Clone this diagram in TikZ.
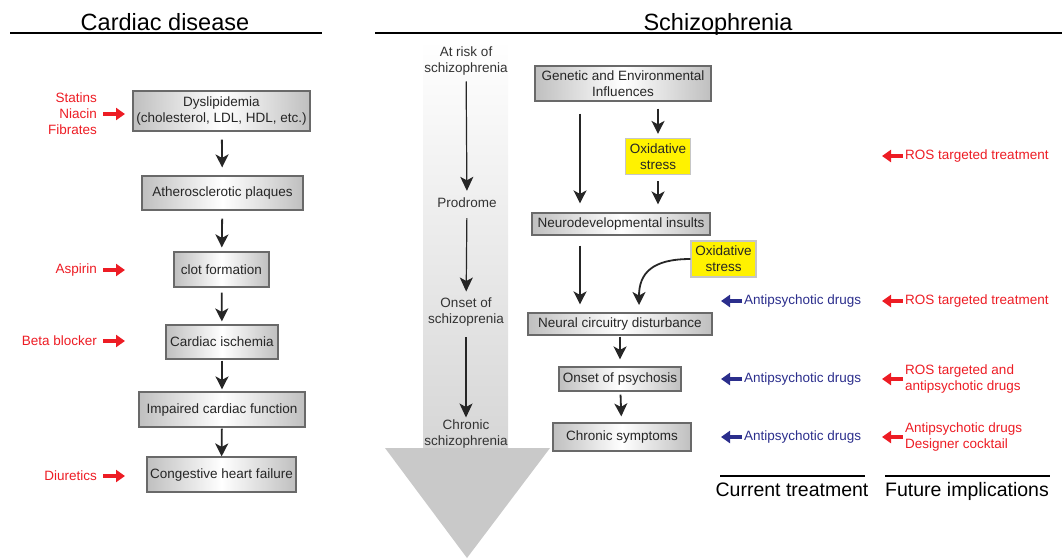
\documentclass[tikz,border=0pt]{standalone}
\usepackage{fontspec}
\setmainfont{Liberation Sans}
\usetikzlibrary{arrows.meta}

\definecolor{drugred}{RGB}{237,28,36}
\definecolor{drugblue}{RGB}{43,46,140}
\definecolor{boxline}{RGB}{105,105,105}

\tikzset{
  stage/.style={draw=boxline, line width=1.2pt, left color=gray!50, right color=gray!50,
    middle color=white, text=black!85, font=\fontsize{13.5}{16}\selectfont,
    align=center, inner sep=0pt},
  oxbox/.style={draw=gray!45, line width=1.2pt, fill=yellow, text=black!85,
    font=\fontsize{13.5}{16}\selectfont, align=center, inner sep=0pt,
    minimum width=65pt, minimum height=36pt},
  phase/.style={text=black!80, font=\fontsize{13.5}{16}\selectfont, align=center, inner sep=0pt},
  drug/.style={font=\fontsize{13.5}{16}\selectfont, inner sep=0pt},
  flow/.style={-{Stealth[length=13pt,width=13pt,inset=3.5pt]}, line width=1.8pt, black!85},
  timeline/.style={-{Stealth[length=14pt,width=13pt,inset=3.5pt]}, line width=1.2pt, black!85},
  redarr/.style={-{Triangle[length=9pt,width=12pt]}, line width=3.5pt, drugred, shorten <=6pt},
  bluearr/.style={-{Triangle[length=9pt,width=12pt]}, line width=3.5pt, drugblue, shorten <=2pt},
  heading/.style={font=\fontsize{23.5}{28}\selectfont, inner sep=0pt, anchor=base},
  colhead/.style={font=\fontsize{19.5}{23}\selectfont, inner sep=0pt, anchor=base}
}

\begin{document}
\begin{tikzpicture}[x=1pt, y=-1pt]
  \useasboundingbox (0,0) rectangle (1062,558);

  % headings
  \node[heading] (cardiac) at (165,30) {Cardiac disease};
  \draw[line width=1.3pt] (10,33) -- (322,33);
  \node[heading] (schizo) at (718,30) {Schizophrenia};
  \draw[line width=1.3pt] (375,33) -- (1062,33);

  % cardiac chain
  \node[stage, minimum width=177pt, minimum height=40pt] (dys) at (221.5,111) {Dyslipidemia\\(cholesterol, LDL, HDL, etc.)};
  \node[stage, minimum width=161pt, minimum height=34pt] (ath) at (222.5,193) {Atherosclerotic plaques};
  \node[stage, minimum width=95pt, minimum height=35pt] (clot) at (221.5,269.5) {clot formation};
  \node[stage, minimum width=112pt, minimum height=34pt] (isch) at (222,342) {Cardiac ischemia};
  \node[stage, minimum width=166pt, minimum height=35pt] (impair) at (222,409.5) {Impaired cardiac function};
  \node[stage, minimum width=149pt, minimum height=35pt] (chf) at (221.5,474.5) {Congestive heart failure};

  \draw[flow, shorten <=8pt, shorten >=8pt] (dys) -- (ath);
  \draw[flow, shorten <=8pt, shorten >=4pt] (ath) -- (clot);
  \draw[flow, shorten <=5pt, shorten >=3pt] (clot) -- (isch);
  \draw[flow, shorten <=1pt, shorten >=2pt] (isch) -- (impair);
  \draw[flow, shorten <=1pt, shorten >=0pt] (impair) -- (chf);

  % cardiac drugs
  \node[drug, text=drugred, anchor=east, align=right] (lipid) at (97,114) {Statins\\Niacin\\Fibrates};
  \node[drug, text=drugred, anchor=east] (asp) at (97,270) {Aspirin};
  \node[drug, text=drugred, anchor=east] (beta) at (97,341) {Beta blocker};
  \node[drug, text=drugred, anchor=east] (diur) at (97,476) {Diuretics};
  \draw[redarr] (lipid.east) -- ++(28,0);
  \draw[redarr] (asp.east) -- ++(28,0);
  \draw[redarr] (beta.east) -- ++(28,0);
  \draw[redarr] (diur.east) -- ++(28,0);

  % course of illness
  \shade[top color=white, bottom color=gray!32] (423,40) rectangle (508,448);
  \fill[gray!42] (385,448) -- (550,448) -- (467,558) -- cycle;
  \node[phase] (risk) at (466,61) {At risk of\\schizophrenia};
  \node[phase] (prod) at (467,203) {Prodrome};
  \node[phase] (onsetS) at (466,312) {Onset of\\schizoprenia};
  \node[phase] (chronS) at (466,434) {Chronic\\schizophrenia};
  \draw[timeline, shorten <=6pt, shorten >=7pt] (risk) -- (prod);
  \draw[timeline, shorten <=10pt, shorten >=6pt] (prod) -- (onsetS);
  \draw[timeline, shorten <=11pt, shorten >=2pt] (onsetS) -- (chronS);

  % schizophrenia chain
  \node[stage, minimum width=176pt, minimum height=35pt] (gen) at (623,83.5) {Genetic and Environmental\\Influences};
  \node[oxbox] (ox1) at (658,156.5) {Oxidative\\stress};
  \node[stage, minimum width=178pt, minimum height=22pt] (neuro) at (621,224) {Neurodevelopmental insults};
  \node[oxbox] (ox2) at (723.5,259) {Oxidative\\stress};
  \node[stage, minimum width=184pt, minimum height=22pt] (neural) at (620,324) {Neural circuitry disturbance};
  \node[stage, minimum width=122pt, minimum height=24pt] (psych) at (620,379) {Onset of psychosis};
  \node[stage, minimum width=138pt, minimum height=28pt] (chron) at (622,437) {Chronic symptoms};

  \coordinate (lane) at (580,0);
  \coordinate (bend) at (639,305);
  \draw[flow, shorten <=7pt, shorten >=4pt] (ox1.north |- gen.south) -- (ox1.north);
  \draw[flow, shorten <=6pt, shorten >=8pt] (ox1.south) -- (ox1.south |- neuro.north);
  \draw[flow, shorten <=12pt, shorten >=9pt] (lane |- gen.south) -- (lane |- neuro.north);
  \draw[flow, shorten <=10pt, shorten >=8pt] (lane |- neuro.south) -- (lane |- neural.north);
  \draw[flow] (ox2.west) .. controls +(-38,0) and +(0,-32) .. (bend);
  \draw[flow, shorten <=1pt, shorten >=7pt] (neural) -- (psych);
  \draw[flow, shorten <=3pt, shorten >=6pt] (psych) -- (chron);

  % current treatment
  \node[drug, text=drugblue, anchor=west] (ap1) at (744,301) {Antipsychotic drugs};
  \node[drug, text=drugblue, anchor=west] (ap2) at (744,379) {Antipsychotic drugs};
  \node[drug, text=drugblue, anchor=west] (ap3) at (744,437) {Antipsychotic drugs};
  \draw[bluearr] (ap1.west) -- ++(-23,0);
  \draw[bluearr] (ap2.west) -- ++(-23,0);
  \draw[bluearr] (ap3.west) -- ++(-23,0);

  % future implications
  \node[drug, text=drugred, anchor=west] (ros1) at (905,156) {ROS targeted treatment};
  \node[drug, text=drugred, anchor=west] (ros2) at (905,301) {ROS targeted treatment};
  \node[drug, text=drugred, anchor=west, align=left] (ros3) at (905,379) {ROS targeted and\\antipsychotic drugs};
  \node[drug, text=drugred, anchor=west, align=left] (ros4) at (905,437) {Antipsychotic drugs\\Designer cocktail};
  \draw[redarr, shorten <=2pt] (ros1.west) -- ++(-23,0);
  \draw[redarr, shorten <=2pt] (ros2.west) -- ++(-23,0);
  \draw[redarr, shorten <=2pt] (ros3.west) -- ++(-23,0);
  \draw[redarr, shorten <=2pt] (ros4.west) -- ++(-23,0);

  % column labels
  \draw[line width=1.3pt] (720,476) -- (865,476);
  \node[colhead] (current) at (792,496) {Current treatment};
  \draw[line width=1.3pt] (885,476) -- (1050,476);
  \node[colhead] (future) at (967,496) {Future implications};
\end{tikzpicture}
\end{document}
